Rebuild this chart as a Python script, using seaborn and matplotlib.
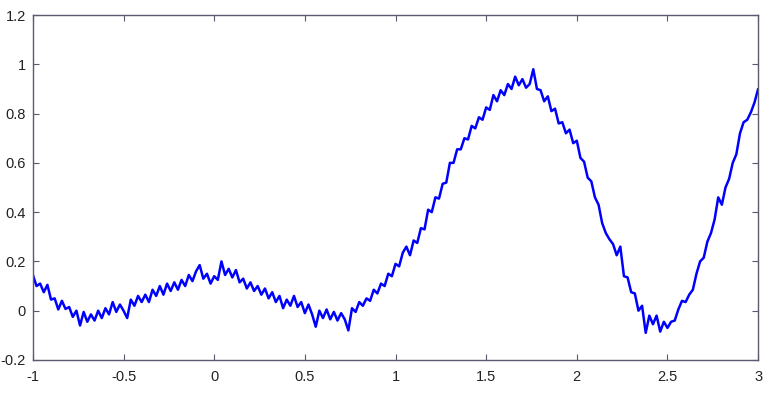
import numpy as np
import pandas as pd
import matplotlib
matplotlib.use("Agg")
import matplotlib.pyplot as plt
import seaborn as sns
from matplotlib.ticker import FuncFormatter

# Sample positions (step 0.02 from -1 to 3)
x_vals = np.round(np.arange(-1.0, 3.0001, 0.02), 2)

# Signal values
y_vals = [
    0.145, 0.10, 0.11, 0.075, 0.105, 0.045, 0.05, 0.005, 0.04, 0.007,
    0.015, -0.025, 0.0, -0.06, -0.005, -0.045, -0.015, -0.04, 0.0, -0.03,
    0.01, -0.015, 0.035, -0.005, 0.025, 0.0, -0.03, 0.045, 0.02, 0.06,
    0.035, 0.065, 0.035, 0.085, 0.06, 0.10, 0.065, 0.11, 0.08, 0.115,
    0.085, 0.125, 0.10, 0.145, 0.12, 0.16, 0.185, 0.13, 0.15, 0.11,
    0.14, 0.125, 0.20, 0.145, 0.17, 0.135, 0.165, 0.115, 0.13, 0.09,
    0.115, 0.08, 0.10, 0.065, 0.09, 0.05, 0.075, 0.035, 0.06, 0.01,
    0.045, 0.02, 0.06, 0.015, 0.035, -0.01, 0.025, -0.015, -0.065, 0.0,
    -0.03, 0.005, -0.035, -0.005, -0.04, -0.01, -0.035, -0.08, 0.01, -0.005,
    0.035, 0.02, 0.05, 0.04, 0.085, 0.07, 0.11, 0.10, 0.15, 0.14,
    0.19, 0.18, 0.235, 0.26, 0.225, 0.285, 0.275, 0.335, 0.33, 0.41,
    0.40, 0.46, 0.455, 0.515, 0.52, 0.60, 0.60, 0.655, 0.655, 0.70,
    0.695, 0.75, 0.74, 0.785, 0.775, 0.825, 0.815, 0.875, 0.85, 0.895,
    0.875, 0.92, 0.90, 0.95, 0.915, 0.94, 0.905, 0.92, 0.98, 0.90,
    0.895, 0.85, 0.87, 0.81, 0.82, 0.76, 0.765, 0.72, 0.735, 0.68,
    0.69, 0.62, 0.605, 0.54, 0.525, 0.46, 0.43, 0.355, 0.315, 0.29,
    0.27, 0.225, 0.26, 0.14, 0.135, 0.075, 0.07, 0.0, 0.02, -0.09,
    -0.02, -0.055, -0.02, -0.085, -0.045, -0.07, -0.045, -0.04, 0.005, 0.04,
    0.035, 0.065, 0.085, 0.15, 0.20, 0.215, 0.28, 0.315, 0.37, 0.46,
    0.43, 0.50, 0.535, 0.60, 0.635, 0.72, 0.765, 0.775, 0.805, 0.845,
    0.90,
]

x_ticks = [-1, -0.5, 0, 0.5, 1, 1.5, 2, 2.5, 3]
y_ticks = [-0.2, 0, 0.2, 0.4, 0.6, 0.8, 1, 1.2]

df = pd.DataFrame({"x": x_vals, "y": y_vals})

sns.set_style("white")
plt.rcParams["font.family"] = ["Liberation Sans", "DejaVu Sans"]

fig = plt.figure(figsize=(7.65, 3.96), dpi=100)
ax = fig.add_axes([0.043, 0.091, 0.948, 0.871])

sns.lineplot(data=df, x="x", y="y", ax=ax, color="#0000ff", linewidth=1.8,
             estimator=None, sort=False)

ax.set_xlim(-1, 3)
ax.set_ylim(-0.2, 1.2)
ax.set_xticks(x_ticks)
ax.set_yticks(y_ticks)
fmt = FuncFormatter(lambda v, p: ("%g" % v))
ax.xaxis.set_major_formatter(fmt)
ax.yaxis.set_major_formatter(fmt)
ax.set_xlabel("")
ax.set_ylabel("")

edge = "#5a5a70"
for s in ax.spines.values():
    s.set_visible(True)
    s.set_color(edge)
    s.set_linewidth(1.0)
ax.tick_params(direction="in", length=4, width=0.8, color=edge,
               top=True, right=True, bottom=True, left=True,
               labelsize=10.5, labelcolor="#222222")
ax.tick_params(axis="x", pad=7)
ax.tick_params(axis="y", pad=5)

fig.savefig("out.png", dpi=100, facecolor="white")
